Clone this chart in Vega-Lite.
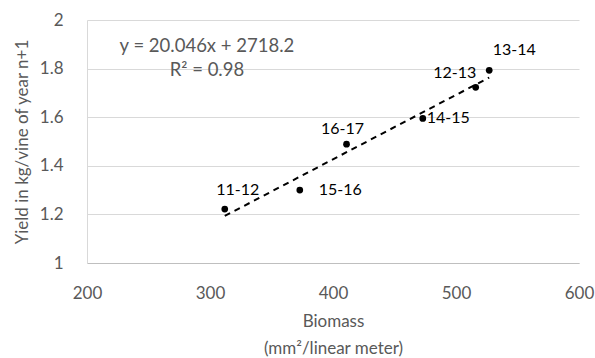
{
  "$schema": "https://vega.github.io/schema/vega-lite/v6.json",
  "width": 492,
  "height": 243,
  "autosize": "none",
  "padding": {"left": 87, "top": 20, "right": 16, "bottom": 95},
  "background": "white",
  "config": {
    "view": {"stroke": null},
    "font": "Lato",
    "axis": {
      "labelFont": "Lato",
      "titleFont": "Lato",
      "labelColor": "#595959",
      "titleColor": "#595959",
      "labelFontSize": 17,
      "titleFontSize": 17,
      "titleFontWeight": "normal",
      "ticks": false,
      "gridColor": "#d9d9d9",
      "gridWidth": 1
    }
  },
  "datasets": {
    "pts": [
      {"season": "11-12", "biomass": 312, "yield": 1.222},
      {"season": "15-16", "biomass": 373, "yield": 1.30},
      {"season": "16-17", "biomass": 411, "yield": 1.489},
      {"season": "14-15", "biomass": 473, "yield": 1.595},
      {"season": "12-13", "biomass": 516, "yield": 1.723},
      {"season": "13-14", "biomass": 527, "yield": 1.793}
    ],
    "eq": [
      {"line": "y = 20.046x + 2718.2", "biomass": 297.5, "yield": 1.895},
      {"line": "R² = 0.98", "biomass": 297.5, "yield": 1.793}
    ]
  },
  "layer": [
    {
      "data": {"name": "pts"},
      "transform": [{"regression": "yield", "on": "biomass", "extent": [312, 527]}],
      "mark": {"type": "line", "color": "black", "strokeWidth": 2, "strokeDash": [6, 5]},
      "encoding": {
        "x": {
          "field": "biomass", "type": "quantitative",
          "scale": {"domain": [200, 600], "nice": false, "zero": false},
          "axis": {
            "values": [200, 300, 400, 500, 600],
            "grid": false,
            "domainColor": "#bfbfbf",
            "labelPadding": 22,
            "labelFlush": false,
            "title": ["Biomass", "(mm²/linear meter)"],
            "titlePadding": 12,
            "titleLineHeight": 27
          }
        },
        "y": {
          "field": "yield", "type": "quantitative",
          "scale": {"domain": [1, 2], "nice": false, "zero": false},
          "axis": {
            "values": [1, 1.2, 1.4, 1.6, 1.8, 2],
            "format": "~g",
            "domainColor": "#d9d9d9",
            "labelPadding": 24,
            "title": "Yield in kg/vine of year n+1",
            "titlePadding": 8
          }
        }
      }
    },
    {
      "data": {"name": "pts"},
      "encoding": {
        "x": {"field": "biomass", "type": "quantitative"},
        "y": {"field": "yield", "type": "quantitative"},
        "text": {"field": "season"}
      },
      "layer": [
        {"mark": {"type": "circle", "color": "black", "opacity": 1, "size": 45}},
        {
          "transform": [{"filter": "datum.season == '11-12'"}],
          "mark": {"type": "text", "font": "Lato", "fontSize": 16, "color": "black", "dx": 13, "dy": -19}
        },
        {
          "transform": [{"filter": "datum.season == '15-16'"}],
          "mark": {"type": "text", "font": "Lato", "fontSize": 16, "color": "black", "align": "left", "dx": 19, "dy": 0}
        },
        {
          "transform": [{"filter": "datum.season == '16-17'"}],
          "mark": {"type": "text", "font": "Lato", "fontSize": 16, "color": "black", "dx": -4, "dy": -15}
        },
        {
          "transform": [{"filter": "datum.season == '14-15'"}],
          "mark": {"type": "text", "font": "Lato", "fontSize": 16, "color": "black", "align": "left", "dx": 4, "dy": 0}
        },
        {
          "transform": [{"filter": "datum.season == '12-13'"}],
          "mark": {"type": "text", "font": "Lato", "fontSize": 16, "color": "black", "dx": -21, "dy": -14}
        },
        {
          "transform": [{"filter": "datum.season == '13-14'"}],
          "mark": {"type": "text", "font": "Lato", "fontSize": 16, "color": "black", "dx": 25, "dy": -20}
        }
      ]
    },
    {
      "data": {"name": "eq"},
      "mark": {"type": "text", "font": "Lato", "fontSize": 18.5, "color": "#595959", "align": "center", "baseline": "middle"},
      "encoding": {
        "x": {"field": "biomass", "type": "quantitative"},
        "y": {"field": "yield", "type": "quantitative"},
        "text": {"field": "line"}
      }
    }
  ]
}
